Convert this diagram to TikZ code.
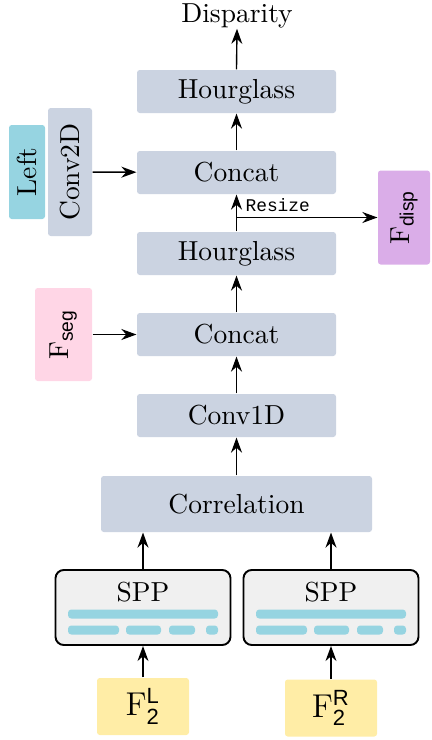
\documentclass[tikz,border=0pt]{standalone}
\usepackage{amsmath}
\usepackage{fontspec}
\newfontfamily\lsans{Liberation Sans}
\newfontfamily\lmono{Liberation Mono}
\usetikzlibrary{arrows.meta}
\definecolor{grayblk}{HTML}{CBD3E1}
\definecolor{cyanblk}{HTML}{96D4E1}
\definecolor{pinkblk}{HTML}{FFD6E6}
\definecolor{purpblk}{HTML}{DAADE8}
\definecolor{yellblk}{HTML}{FFEDA6}
\definecolor{sppfill}{HTML}{F0F0F0}
\begin{document}
\begin{tikzpicture}[x=0.3636pt,y=-0.3636pt,
  bw/.style={minimum width=#1*0.3636pt},
  bh/.style={minimum height=#1*0.3636pt},
  blk/.style={fill=grayblk, rounded corners=1pt, inner sep=0pt},
  sppbox/.style={draw=black, line width=0.7pt, fill=sppfill, rounded corners=3pt, inner sep=0pt},
  bar/.style={fill=cyanblk, rounded corners=1.2pt, inner sep=0pt},
  arr/.style={-{Stealth[length=5.5pt,width=4pt]}, line width=0.5pt}]
\useasboundingbox (0,0) rectangle (431,740);

\node[inner sep=0pt] (disp) at (237,16) {Disparity};
\node[blk,bw=199,bh=43] (hg1) at (236.5,91.5) {Hourglass};
\node[blk,bw=199,bh=43] (cc1) at (236.5,172.5) {Concat};
\node[blk,bw=199,bh=43] (hg2) at (236.5,253.5) {Hourglass};
\node[blk,bw=199,bh=43] (cc2) at (236.5,334.5) {Concat};
\node[blk,bw=199,bh=43] (c1d) at (236.5,415.5) {Conv1D};
\node[blk,bw=271,bh=56] (corr) at (236.5,504) {Correlation};

\node[blk,fill=cyanblk,rotate=90,bw=94,bh=36] (left) at (27,172) {Left};
\node[blk,rotate=90,bw=128,bh=44] (c2d) at (70,172) {Conv2D};
\node[blk,fill=pinkblk,rotate=90,bw=93,bh=57] (fseg) at (63.5,334.5) {$\mathrm{F}_{\text{\lsans seg}}$};
\node[blk,fill=purpblk,rotate=90,bw=94,bh=52] (fdisp) at (404,217.5) {$\mathrm{F}_{\text{\lsans disp}}$};

% SPP blocks
\node[sppbox,bw=175,bh=75] (sppl) at (143,607.5) {};
\node[sppbox,bw=175,bh=75] (sppr) at (331,607.5) {};
\node[inner sep=0pt] (sppltxt) at (143,592) {SPP};
\node[inner sep=0pt] (spprtxt) at (331,592) {SPP};
\foreach \dx/\nm in {0/l,188/r}{
  \node[bar,bw=150,bh=9] (b0\nm) at (143+\dx,614) {};
  \node[bar,bw=51,bh=9] (b1\nm) at (93.5+\dx,630) {};
  \node[bar,bw=35,bh=9] (b2\nm) at (143.5+\dx,630) {};
  \node[bar,bw=26,bh=9] (b3\nm) at (182+\dx,630) {};
  \node[bar,bw=12,bh=9] (b4\nm) at (212+\dx,630) {};
}

\node[blk,fill=yellblk,bw=92,bh=57,font=\large] (fl) at (143,706.5) {$\mathrm{F}^{\text{\lsans L}}_{\text{\lsans 2}}$};
\node[blk,fill=yellblk,bw=92,bh=57,font=\large] (fr) at (331,708) {$\mathrm{F}^{\text{\lsans R}}_{\text{\lsans 2}}$};

% connectors
\draw[arr] (hg1.north) -- (disp.south);
\draw[arr] (cc1) -- (hg1);
\draw[arr] (hg2) -- (cc1);
\draw[arr] (c1d) -- (cc2);
\draw[arr] (cc2) -- (hg2);
\draw[arr] (c1d.south |- corr.north) -- (c1d.south);
\draw[arr] (c2d) -- (cc1);
\draw[arr] (fseg) -- (cc2);
\coordinate (rs) at (236.5,217.5);
\draw[arr] (rs) -- (fdisp);
\node[anchor=south west,inner sep=0pt,font=\lmono\fontsize{6.5}{7}\selectfont] (rslbl) at (245,212.5) {Resize};
\draw[arr] (sppl.north) -- (sppl.north |- corr.south);
\draw[arr] (sppr.north) -- (sppr.north |- corr.south);
\draw[arr] (fl) -- (sppl);
\draw[arr] (fr) -- (sppr);
\end{tikzpicture}
\end{document}
